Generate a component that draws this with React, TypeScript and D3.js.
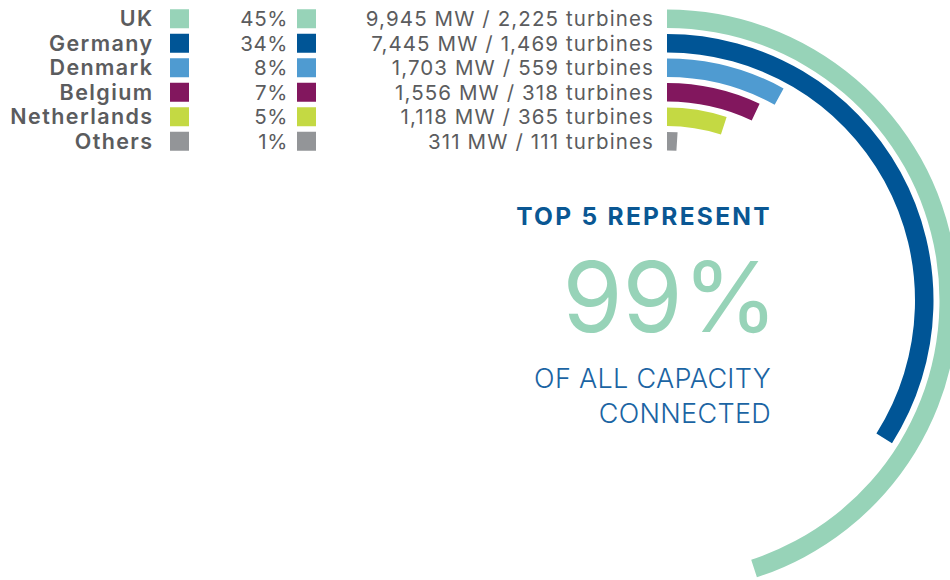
import React, { useMemo } from "react";
import * as d3 from "d3";

const WIDTH = 950;
const HEIGHT = 580;

const countries = ["UK", "Germany", "Denmark", "Belgium", "Netherlands", "Others"];
const shares = [45, 34, 8, 7, 5, 1];
const capacityMW = [9945, 7445, 1703, 1556, 1118, 311];
const turbines = [2225, 1469, 559, 318, 365, 111];
const colors = ["#97d3b8", "#005596", "#4f9bd1", "#82175e", "#c4d943", "#939598"];

const CX = 667;
const CY = 300.5;
const TEXT_GREY = "#5b5c5e";
const FONT = "Inter, 'Open Sans', sans-serif";

const fmt = d3.format(",");

const App = () => {
  // one row per country, shared by the legend and the rings
  const y = useMemo(
    () => d3.scaleBand<string>().domain(countries).range([9.5, 150.5]).paddingInner(0.245),
    []
  );

  // share of capacity -> sweep angle, full circle = 100%
  const angle = d3.scaleLinear().domain([0, 100]).range([0, 2 * Math.PI]);

  const arcs = useMemo(() => {
    const arcGen = d3.arc();
    return countries.map((c, i) =>
      arcGen({
        innerRadius: CY - ((y(c) as number) + y.bandwidth()),
        outerRadius: CY - (y(c) as number),
        startAngle: 0,
        endAngle: angle(shares[i]),
      })
    );
  }, [y]);

  const bw = y.bandwidth();

  return (
    <svg
      width={WIDTH}
      height={HEIGHT}
      style={{ position: "absolute", left: 0, top: 0, background: "#fff" }}
    >
      <g transform={`translate(${CX}, ${CY})`}>
        {arcs.map((a, i) => (
          <path key={i} d={a as string} fill={colors[i]} />
        ))}
      </g>

      {countries.map((c, i) => {
        const cy = (y(c) as number) + bw / 2;
        return (
          <g key={c}>
            <text
              x={153.5}
              y={cy}
              dy="0.36em"
              textAnchor="end"
              style={{
                fontFamily: FONT,
                fontSize: 21.5,
                fontWeight: 600,
                letterSpacing: 1.4,
                fill: TEXT_GREY,
              }}
            >
              {c}
            </text>
            <rect x={170} y={cy - 9.5} width={19} height={19} fill={colors[i]} />
            <text
              x={288}
              y={cy}
              dy="0.36em"
              textAnchor="end"
              style={{
                fontFamily: FONT,
                fontSize: 20.5,
                fontWeight: 400,
                letterSpacing: 0.6,
                fill: TEXT_GREY,
              }}
            >
              {`${shares[i]}%`}
            </text>
            <rect x={297} y={cy - 9.5} width={19} height={19} fill={colors[i]} />
            <text
              x={654}
              y={cy}
              dy="0.36em"
              textAnchor="end"
              style={{
                fontFamily: FONT,
                fontSize: 20.5,
                fontWeight: 400,
                letterSpacing: 1.1,
                fill: TEXT_GREY,
              }}
            >
              {`${fmt(capacityMW[i])} MW / ${fmt(turbines[i])} turbines`}
            </text>
          </g>
        );
      })}

      <text
        x={772}
        y={225}
        textAnchor="end"
        style={{
          fontFamily: FONT,
          fontSize: 24.5,
          fontWeight: 700,
          letterSpacing: 2.3,
          fill: "#0a5793",
        }}
      >
        TOP 5 REPRESENT
      </text>
      <text
        x={778}
        y={332}
        textAnchor="end"
        style={{ fontFamily: FONT, fontSize: 97, fontWeight: 400, fill: "#97d3b8" }}
      >
        99%
      </text>
      <text
        x={771}
        y={388}
        textAnchor="end"
        style={{
          fontFamily: FONT,
          fontSize: 27,
          fontWeight: 300,
          letterSpacing: 0.3,
          fill: "#1b64a3",
        }}
      >
        OF ALL CAPACITY
      </text>
      <text
        x={771}
        y={423}
        textAnchor="end"
        style={{
          fontFamily: FONT,
          fontSize: 27,
          fontWeight: 300,
          letterSpacing: 0.3,
          fill: "#1b64a3",
        }}
      >
        CONNECTED
      </text>
    </svg>
  );
};

export default App;
